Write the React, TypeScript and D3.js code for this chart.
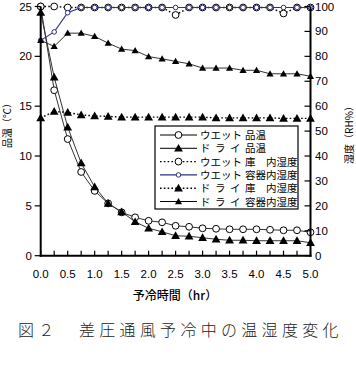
import React from "react";
import * as d3 from "d3";

const time = [0, 0.25, 0.5, 0.75, 1.0, 1.25, 1.5, 1.75, 2.0, 2.25, 2.5, 2.75, 3.0, 3.25, 3.5, 3.75, 4.0, 4.25, 4.5, 4.75, 5.0];

const wetTemp = [25, 16.6, 11.7, 8.4, 6.5, 5.25, 4.35, 3.85, 3.5, 3.35, 3.0, 2.9, 2.75, 2.7, 2.65, 2.65, 2.65, 2.6, 2.55, 2.55, 2.35];
const dryTemp = [24.4, 17.9, 12.9, 9.3, 6.9, 5.25, 4.4, 3.4, 2.75, 2.4, 2.0, 1.95, 1.8, 1.65, 1.55, 1.55, 1.5, 1.5, 1.5, 1.5, 1.3];
const wetHumRoom = [100, 100, 99.6, 99.6, 99.6, 99.6, 99.6, 99.6, 99.6, 99.6, 96.6, 99.6, 99.6, 99.6, 99.6, 99.6, 99.6, 99.6, 97.2, 99.6, 99.6];
const wetHumBox = [86.4, 89.8, 97.5, 99.6, 99.6, 99.6, 99.6, 99.6, 99.6, 99.6, 99.6, 99.6, 99.6, 99.6, 99.6, 99.6, 99.6, 99.6, 99.6, 99.6, 99.6];
const dryHumRoom = [55.3, 57.9, 57.5, 56.5, 56.1, 55.9, 55.6, 55.6, 55.6, 55.6, 55.6, 55.6, 55.6, 55.3, 55.3, 55.3, 55.3, 55.3, 55.1, 55.1, 55.1];
const dryHumBox = [86.4, 84.0, 89.3, 89.3, 88.0, 85.3, 82.9, 82.3, 79.9, 79.0, 78.0, 77.0, 75.3, 75.3, 75.3, 74.4, 74.4, 73.0, 73.0, 73.0, 72.0];

const xTickLabels = ["0.0", "0.5", "1.0", "1.5", "2.0", "2.5", "3.0", "3.5", "4.0", "4.5", "5.0"];
const leftTicks = [0, 5, 10, 15, 20, 25];
const rightTicks = [0, 10, 20, 30, 40, 50, 60, 70, 80, 90, 100];

const legendPrefixes = ["ウエット", "ドライ", "ウエット", "ウエット", "ドライ", "ドライ"];
const legendSuffixes = ["品温", "品温", "庫\u3000内湿度", "容器内湿度", "庫\u3000内湿度", "容器内湿度"];

const L = 40.7, R = 310.5, T = 6.5, B = 255.7;
const BLUE = "#2e2e8f";

type Style = { axis: "l" | "r"; marker: "circle" | "tri" | "scircle" | "stri"; dash?: string; color: string; width: number };

const series: { values: number[]; style: Style }[] = [
  { values: wetHumRoom, style: { axis: "r", marker: "circle", dash: "1.6,2.2", color: "#000", width: 1.4 } },
  { values: wetHumBox, style: { axis: "r", marker: "scircle", color: BLUE, width: 1.1 } },
  { values: dryHumRoom, style: { axis: "r", marker: "tri", dash: "1.6,2.2", color: "#000", width: 1.4 } },
  { values: dryHumBox, style: { axis: "r", marker: "stri", color: "#333", width: 1 } },
  { values: wetTemp, style: { axis: "l", marker: "circle", color: "#333", width: 1 } },
  { values: dryTemp, style: { axis: "l", marker: "tri", color: "#333", width: 1 } },
];

const legendStyles: Style[] = [
  { axis: "l", marker: "circle", color: "#000", width: 1 },
  { axis: "l", marker: "tri", color: "#000", width: 1 },
  { axis: "r", marker: "circle", dash: "1.6,2.2", color: "#000", width: 1.4 },
  { axis: "r", marker: "scircle", color: BLUE, width: 1.1 },
  { axis: "r", marker: "tri", dash: "1.6,2.2", color: "#000", width: 1.4 },
  { axis: "r", marker: "stri", color: "#000", width: 1 },
];

function Marker({ x, y, kind }: { x: number; y: number; kind: Style["marker"] }) {
  if (kind === "circle") return <circle cx={x} cy={y} r={3.4} fill="#fff" stroke="#000" strokeWidth={1} />;
  if (kind === "scircle") return <circle cx={x} cy={y} r={2.3} fill="#fff" stroke={BLUE} strokeWidth={1} />;
  const s = kind === "tri" ? 4.4 : 3.6;
  return <path d={`M${x},${y - s}L${x + s},${y + s * 0.75}L${x - s},${y + s * 0.75}Z`} fill="#000" />;
}

export default function App() {
  const x = d3.scaleLinear().domain([0, 5]).range([L, R]);
  const yl = d3.scaleLinear().domain([0, 25]).range([B, T]);
  const yr = d3.scaleLinear().domain([0, 100]).range([B, T]);
  const minor = d3.range(0, 5.001, 0.25);
  const font = "'Liberation Sans', Arial, sans-serif";
  const jfont = "'Noto Sans CJK JP', sans-serif";

  return (
    <svg width={356} height={367} style={{ position: "absolute", left: 0, top: 0, background: "#fff" }}>
      <rect width={356} height={367} fill="#fff" />
      {series.map((s, i) => {
        const ys = s.style.axis === "l" ? yl : yr;
        const line = d3.line<number>().x((_, j) => x(time[j])).y((v) => ys(v));
        return (
          <g key={i}>
            <path d={line(s.values) || ""} fill="none" stroke={s.style.color} strokeWidth={s.style.width} strokeDasharray={s.style.dash} />
            {s.values.map((v, j) => (
              <Marker key={j} x={x(time[j])} y={ys(v)} kind={s.style.marker} />
            ))}
          </g>
        );
      })}
      {/* axes */}
      <g stroke="#000" strokeWidth={2} fill="none">
        <line x1={L} y1={T} x2={L} y2={B + 1} />
        <line x1={R} y1={T} x2={R} y2={B + 1} />
        <line x1={L - 1} y1={B} x2={R + 1} y2={B} />
      </g>
      <g stroke="#000" strokeWidth={1.2}>
        {minor.map((t, i) => (
          <line key={i} x1={x(t)} x2={x(t)} y1={B} y2={B - 5} />
        ))}
        {leftTicks.map((t) => (
          <line key={t} x1={L - 6} x2={L} y1={yl(t)} y2={yl(t)} />
        ))}
        {rightTicks.map((t) => (
          <line key={t} x1={R - 6} x2={R} y1={yr(t)} y2={yr(t)} />
        ))}
      </g>
      <g fontFamily={font} fontSize={11.5} fill="#000">
        {xTickLabels.map((lab) => (
          <text key={lab} x={x(+lab)} y={277.5} textAnchor="middle">{lab}</text>
        ))}
        {leftTicks.map((t) => (
          <text key={t} x={32} y={yl(t) + 4} textAnchor="end">{t}</text>
        ))}
        {rightTicks.map((t) => (
          <text key={t} x={315} y={yr(t) + 4} textAnchor="start">{t}</text>
        ))}
      </g>
      {/* axis titles */}
      <text transform="translate(11,123) rotate(-90)" textAnchor="middle" fontFamily={jfont} fontSize={10} fill="#000">品温（℃）</text>
      <text transform="translate(353,132.5) rotate(-90)" textAnchor="middle" fontFamily={jfont} fontSize={10} fill="#000">湿度（RH%）</text>
      <text x={175} y={300} textAnchor="middle" fontFamily={jfont} fontSize={12} fontWeight={500} fill="#000">予冷時間（hr）</text>
      {/* legend */}
      <rect x={155} y={126} width={143} height={83} fill="#fff" stroke="#000" strokeWidth={1.2} />
      {legendStyles.map((st, i) => {
        const cy = 135 + i * 13.3;
        const pre = legendPrefixes[i];
        return (
          <g key={i} fontFamily={jfont} fontSize={10.5} fill="#000">
            <line x1={160} x2={197} y1={cy} y2={cy} stroke={st.color} strokeWidth={st.width} strokeDasharray={st.dash} />
            <Marker x={178.5} y={cy} kind={st.marker} />
            {pre === "ドライ"
              ? pre.split("").map((c, k) => (
                  <text key={k} x={200 + k * 15} y={cy + 4}>{c}</text>
                ))
              : <text x={200} y={cy + 4}>{pre}</text>}
            <text x={245} y={cy + 4}>{legendSuffixes[i]}</text>
          </g>
        );
      })}
      {/* caption */}
      <text x={18} y={336} fontFamily={jfont} fontSize={16} letterSpacing={4.3} fill="#222" fontWeight={300}>図２　差圧通風予冷中の温湿度変化</text>
    </svg>
  );
}
